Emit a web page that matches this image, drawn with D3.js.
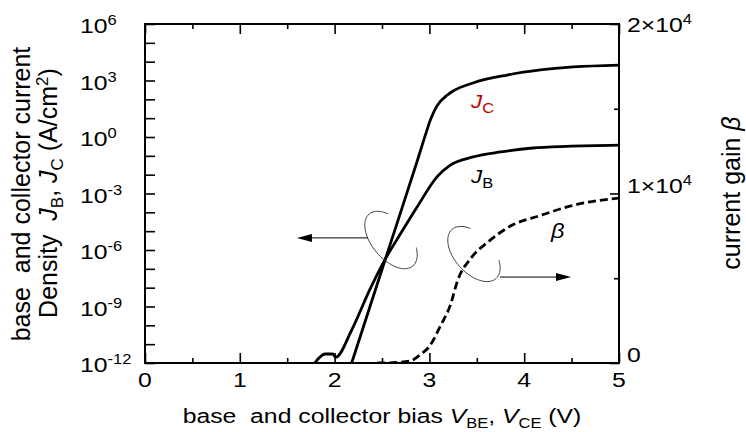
<!DOCTYPE html>
<html>
<head>
<meta charset="utf-8">
<script src="https://cdn.jsdelivr.net/npm/d3@7"></script>
<style>
  body { margin: 0; background: #fff; }
  text { font-family: "Liberation Sans", Arial, sans-serif; fill: #000; white-space: pre; }
</style>
</head>
<body>
<div id="chart"></div>
<script>
// collector current density J_C (A/cm2) vs bias
const vJC = [2.18, 2.53, 2.87, 2.97, 3.01, 3.08, 3.19, 3.25, 3.46, 3.82, 4.17, 4.52, 5.0];
const jC  = [1e-12, 2.7e-7, 0.05, 2.0, 7.9, 45, 170, 275, 740, 1950, 3630, 5250, 6600];

// base current density J_B (A/cm2)
const vJB = [1.79, 1.90, 1.98, 2.01, 2.18, 2.37, 2.53, 2.70, 2.87, 3.08, 3.22, 3.46, 3.75, 4.09, 4.45, 5.0];
const jB  = [1e-12, 3.0e-12, 3.0e-12, 2.0e-12, 5.6e-11, 7.6e-9, 3.0e-7, 7.9e-6, 1.9e-4, 7.6e-3, 3.2e-2, 8.7e-2, 0.16, 0.26, 0.32, 0.37];

// current gain beta (right axis)
const vBeta = [2.45, 2.65, 2.80, 2.90, 3.01, 3.11, 3.22, 3.30, 3.44, 3.62, 3.88, 4.17, 4.48, 4.80, 5.0];
const beta  = [0, 30, 120, 470, 1060, 2120, 3400, 4900, 6200, 7150, 8150, 8700, 9250, 9600, 9730];

// ticks
const xMajor = [0, 1, 2, 3, 4, 5];
const xMinor = [0.5, 1.5, 2.5, 3.5, 4.5];
const yDecades = d3.range(-12, 7).map(e => Math.pow(10, e));
const yLabelExp = [6, 3, 0, -3, -6, -9, -12];
const rMajor = [0, 1e4, 2e4];
const rMinor = [5e3, 1.5e4];
const rLabels = [{v: 2e4, m: "2×10", e: "4"}, {v: 1e4, m: "1×10", e: "4"}, {v: 0, m: "0", e: ""}];

const width = 746, height = 432;
const SX = 1.18; // horizontal text is drawn a little wide in the original

const svg = d3.select("#chart").append("svg")
  .attr("width", width)
  .attr("height", height);

const x = d3.scaleLinear().domain([0, 5]).range([145, 619]);
const y = d3.scaleLog().domain([1e-12, 1e6]).range([363, 24]);
const yR = d3.scaleLinear().domain([0, 2e4]).range([363, 24]);

svg.append("defs").append("clipPath").attr("id", "plot")
  .append("rect").attr("x", 145).attr("y", 24).attr("width", 474).attr("height", 339);

// inward ticks
function drawTicks(axis, transform, size, values) {
  svg.append("g")
    .attr("transform", transform)
    .call(axis.tickValues(values).tickSize(size).tickFormat(""))
    .call(g => g.select(".domain").remove())
    .selectAll("line").attr("stroke", "#000").attr("stroke-width", 1.6);
}
drawTicks(d3.axisBottom(x), "translate(0,363)", -10, xMajor);
drawTicks(d3.axisBottom(x), "translate(0,363)", -5, xMinor);
drawTicks(d3.axisTop(x), "translate(0,24)", -10, xMajor);
drawTicks(d3.axisTop(x), "translate(0,24)", -5, xMinor);
drawTicks(d3.axisLeft(y), "translate(145,0)", -10, yDecades);
drawTicks(d3.axisRight(yR), "translate(619,0)", -9, rMajor);
drawTicks(d3.axisRight(yR), "translate(619,0)", -5, rMinor);

// frame
svg.append("rect")
  .attr("x", 145).attr("y", 24).attr("width", 474).attr("height", 339)
  .attr("fill", "none").attr("stroke", "#000").attr("stroke-width", 2);

function txt(px, py, size, anchor) {
  return svg.append("text")
    .attr("transform", `translate(${px},${py}) scale(${SX},1)`)
    .attr("font-size", size)
    .attr("text-anchor", anchor);
}
function vtxt(px, py, size) {
  return svg.append("text")
    .attr("transform", `translate(${px},${py}) rotate(-90)`)
    .attr("font-size", size)
    .attr("text-anchor", "middle");
}

// x tick labels
xMajor.forEach(v => {
  txt(x(v), 387, 21, "middle").text(v);
});

// left tick labels 10^n
yLabelExp.forEach(e => {
  const t = txt(80, y(Math.pow(10, e)) + 9, 21, "start");
  t.append("tspan").text("10");
  t.append("tspan").attr("dy", -8).attr("font-size", 14).text(e);
});

// right tick labels
rLabels.forEach(d => {
  const dy = d.v === 2e4 ? 8 : -1;
  const t = txt(627, yR(d.v) + dy, 21, "start");
  t.append("tspan").text(d.m);
  if (d.e) t.append("tspan").attr("dy", -8).attr("font-size", 14).text(d.e);
});

// x axis title
const xt = txt(382, 423, 21, "middle");
xt.append("tspan").text("base  and collector bias ");
xt.append("tspan").attr("font-style", "italic").text("V");
xt.append("tspan").attr("font-size", 14).attr("dy", 5).text("BE");
xt.append("tspan").attr("dy", -5).text(", ");
xt.append("tspan").attr("font-style", "italic").text("V");
xt.append("tspan").attr("font-size", 14).attr("dy", 5).text("CE");
xt.append("tspan").attr("dy", -5).text(" (V)");

// left axis title (two lines)
vtxt(30, 194, 25).text("base  and collector current");
const lt = vtxt(57, 193, 25);
lt.append("tspan").text("Density  ");
lt.append("tspan").attr("font-style", "italic").text("J");
lt.append("tspan").attr("font-size", 17).attr("dy", 6).text("B");
lt.append("tspan").attr("dy", -6).text(", ");
lt.append("tspan").attr("font-style", "italic").text("J");
lt.append("tspan").attr("font-size", 17).attr("dy", 6).text("C");
lt.append("tspan").attr("dy", -6).text(" (A/cm");
lt.append("tspan").attr("font-size", 17).attr("dy", -9).text("2");
lt.append("tspan").attr("dy", 9).text(")");

// right axis title
const rt = vtxt(740, 193, 25);
rt.append("tspan").text("current gain ");
rt.append("tspan").attr("font-style", "italic").text("β");

// curves
const plot = svg.append("g").attr("clip-path", "url(#plot)");
const lineJ = d3.line().x(d => x(d[0])).y(d => y(d[1])).curve(d3.curveMonotoneX);
const lineB = d3.line().x(d => x(d[0])).y(d => yR(d[1])).curve(d3.curveMonotoneX);

plot.append("path")
  .attr("d", lineJ(d3.zip(vJC, jC)))
  .attr("fill", "none").attr("stroke", "#000").attr("stroke-width", 2.8);
plot.append("path")
  .attr("d", lineJ(d3.zip(vJB, jB)))
  .attr("fill", "none").attr("stroke", "#000").attr("stroke-width", 2.8);
plot.append("path")
  .attr("d", lineB(d3.zip(vBeta, beta)))
  .attr("fill", "none").attr("stroke", "#000").attr("stroke-width", 2.8)
  .attr("stroke-dasharray", "8,4");

// curve labels
const lc = txt(471, y(35), 19, "start").attr("fill", "#c00000");
lc.append("tspan").attr("font-style", "italic").attr("fill", "#c00000").text("J");
lc.append("tspan").attr("font-size", 14).attr("dy", 5).attr("fill", "#c00000").text("C");
const lb = txt(471, y(3.6e-3), 19, "start");
lb.append("tspan").attr("font-style", "italic").text("J");
lb.append("tspan").attr("font-size", 14).attr("dy", 5).text("B");
txt(551, yR(7375), 20, "start").attr("font-style", "italic").text("β");

// annotation loops and arrows
function loop(cx, cy, a, b, deg) {
  const th = deg * Math.PI / 180;
  const pts = d3.range(-50, 231, 5).map(t => {
    const r = t * Math.PI / 180;
    const u = a * Math.cos(r), w = b * Math.sin(r);
    return [cx + u * Math.cos(th) - w * Math.sin(th), cy + u * Math.sin(th) + w * Math.cos(th)];
  });
  svg.append("path")
    .attr("d", d3.line().curve(d3.curveBasis)(pts))
    .attr("fill", "none").attr("stroke", "#444").attr("stroke-width", 1);
}
loop(x(2.595), y(3.4e-6), 34, 19, 50);
loop(x(3.47), yR(6430), 33, 19, 48);

function arrow(x1, y1, x2, y2) {
  const dir = Math.sign(x2 - x1);
  svg.append("line")
    .attr("x1", x1).attr("y1", y1).attr("x2", x2 - dir * 10).attr("y2", y2)
    .attr("stroke", "#000").attr("stroke-width", 1);
  svg.append("path")
    .attr("d", `M${x2},${y2}L${x2 - dir * 15},${y2 - 4}L${x2 - dir * 15},${y2 + 4}Z`)
    .attr("fill", "#000");
}
arrow(x(2.352), y(4.4e-6), x(1.603), y(4.4e-6));
arrow(x(3.745), yR(5070), x(4.494), yR(5070));
</script>
</body>
</html>
